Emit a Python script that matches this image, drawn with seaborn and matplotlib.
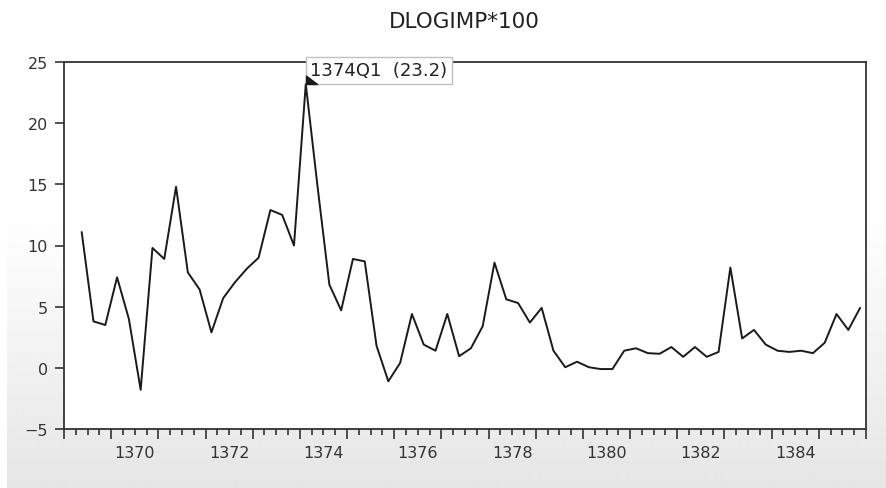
import numpy as np
import pandas as pd
import seaborn as sns
import matplotlib.pyplot as plt
from matplotlib.path import Path
from matplotlib.ticker import MultipleLocator, FuncFormatter, NullFormatter

# quarterly sample starts 1369Q2 (first obs lost to the log difference)
start_year = 1369
start_quarter = 2
dlogimp = [11.1, 3.8, 3.5, 7.4, 4.0, -1.8, 9.8, 8.9, 14.8, 7.8, 6.4, 2.9,
           5.7, 7.0, 8.1, 9.0, 12.9, 12.5, 10.0, 23.2, 14.8, 6.8, 4.7, 8.9,
           8.7, 1.8, -1.1, 0.4, 4.4, 1.9, 1.4, 4.4, 0.95, 1.6, 3.4, 8.6,
           5.6, 5.3, 3.7, 4.9, 1.4, 0.05, 0.5, 0.05, -0.1, -0.1, 1.4, 1.6,
           1.2, 1.15, 1.7, 0.9, 1.7, 0.9, 1.3, 8.2, 2.4, 3.1, 1.9, 1.4,
           1.3, 1.4, 1.2, 2.05, 4.4, 3.1, 4.9]
year_labels = [1370, 1372, 1374, 1376, 1378, 1380, 1382, 1384]
y_ticks = [-5, 0, 5, 10, 15, 20, 25]

# build period labels and positions (middle of each quarter)
periods = []
yr, q = start_year, start_quarter
for _ in dlogimp:
    periods.append(f"{yr}Q{q}")
    q += 1
    if q > 4:
        yr, q = yr + 1, 1
df = pd.DataFrame({"period": periods, "value": dlogimp})
df["t"] = [int(p[:4]) + (int(p[-1]) - 1) / 4 + 0.125 for p in df["period"]]

sns.set_style("ticks")
plt.rcParams["font.family"] = ["DejaVu Sans"]

fig = plt.figure(figsize=(8.86, 4.89), dpi=100)
fig.patch.set_facecolor("white")

# soft grey gradient behind the plot, like the EViews window
bg = fig.add_axes([7 / 886, 0, 1 - 7 / 886, 1], zorder=-1)
rows = np.concatenate([np.ones(215), np.linspace(1.0, 0.9, 274)])
bg.imshow(rows[:, None] * np.ones((1, 10)), cmap="gray", vmin=0, vmax=1,
          aspect="auto", extent=[0, 1, 0, 1])
bg.axis("off")

ax = fig.add_axes([64 / 886, 1 - 430 / 489, (866 - 64) / 886, (430 - 63) / 489])
ax.set_facecolor("white")
sns.lineplot(data=df, x="t", y="value", ax=ax, color="#1a1a1a", linewidth=1.4)

ax.set_xlim(start_year, start_year + 17)
ax.set_ylim(-5, 25)
ax.set_yticks(y_ticks)
ax.set_xlabel("")
ax.set_ylabel("")

ax.xaxis.set_major_locator(MultipleLocator(1))
ax.xaxis.set_minor_locator(MultipleLocator(0.25))
ax.xaxis.set_major_formatter(NullFormatter())


def year_fmt(x, pos):
    yr_ = int(np.floor(x))
    if abs(x - yr_ - 0.5) < 1e-6 and yr_ in year_labels:
        return str(yr_)
    return ""


ax.xaxis.set_minor_formatter(FuncFormatter(year_fmt))
ax.tick_params(axis="x", which="major", length=7.5, width=1.1, direction="out",
               color="#222222")
ax.tick_params(axis="x", which="minor", bottom=True, length=4, width=1.1,
               direction="out", pad=7.5, labelsize=11.5, labelcolor="#333333",
               color="#222222")
ax.tick_params(axis="y", length=6.5, width=1.1, direction="out", pad=5,
               labelsize=11.5, labelcolor="#333333", color="#222222")
for s in ax.spines.values():
    s.set_color("#333333")
    s.set_linewidth(1.3)

# tooltip flag on the maximum
peak = df.loc[df["value"].idxmax()]
flag = Path([(0, 0), (0, 0.75), (1, 0), (0, 0)],
            [Path.MOVETO, Path.LINETO, Path.LINETO, Path.CLOSEPOLY])
ax.annotate(f"{peak['period']}  ({peak['value']:.1f})",
            xy=(peak["t"], peak["value"]), xytext=(3.3, 3.3),
            textcoords="offset points", ha="left", va="bottom",
            fontsize=13, color="#222222", annotation_clip=False, zorder=6,
            bbox=dict(boxstyle="square,pad=0.25", fc="white", ec="#c0c0c0", lw=1))
ax.plot(peak["t"], peak["value"], marker=flag, markersize=16, color="#1a1a1a",
        clip_on=False, zorder=7)

fig.text(464 / 886, 1 - 22 / 489, "DLOGIMP*100", ha="center", va="center",
         fontsize=15.5, color="#222222")

fig.savefig("out.png", dpi=100)
